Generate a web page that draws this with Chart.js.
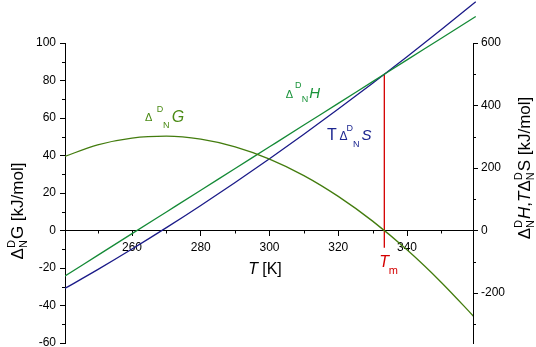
<!DOCTYPE html>
<html>
<head>
<meta charset="utf-8">
<script src="https://cdn.jsdelivr.net/npm/chart.js@4.4.1/dist/chart.umd.min.js"></script>
<style>
html, body { margin: 0; padding: 0; background: #fff; }
#wrap { width: 536px; height: 347px; }
</style>
</head>
<body>
<div id="wrap"><canvas id="thermoChart" width="536" height="347"></canvas></div>
<script>
// temperatures [K] and the three curves
var temps = [240, 250, 260, 270, 280, 290, 300, 310, 320, 330, 340, 350, 360];
var dG = [39.2, 45.7, 49.3, 50.3, 48.7, 44.6, 38.1, 29.3, 18.2, 5.0, -10.3, -27.7, -47.0];
var dH = [-149.1, -79.6, -10.1, 59.4, 128.9, 198.4, 267.9, 337.4, 406.9, 476.4, 545.9, 615.4, 684.9];
var TdS = [-188.3, -125.3, -59.4, 9.1, 80.2, 153.8, 229.8, 308.1, 388.7, 471.4, 556.2, 643.1, 731.9];

// melting point marker
var Tm = 333.4;
var HTm = 500;
var TmLineLow = -55;

// ticks
var xTicks = [260, 280, 300, 320, 340];
var xMinor = [250, 270, 290, 310, 330, 350];
var gTicks = [-60, -40, -20, 0, 20, 40, 60, 80, 100];
var gMinor = [-50, -30, -10, 10, 30, 50, 70, 90];
var hTicks = [-200, 0, 200, 400, 600];
var hMinor = [-300, -100, 100, 300, 500];

var fontFam = '"Liberation Sans", Arial, sans-serif';

function pts(ys) {
    return temps.map(function (t, i) { return { x: t, y: ys[i] }; });
}

// text pieces at fixed offsets from an anchor
function rich(ctx, x0, y0, segs, color) {
    ctx.save();
    ctx.fillStyle = color;
    ctx.textAlign = 'left';
    ctx.textBaseline = 'alphabetic';
    segs.forEach(function (s) {
        ctx.font = (s.it ? 'italic ' : '') + s.size + 'px ' + fontFam;
        ctx.fillText(s.t, x0 + s.dx, y0 + s.dy);
    });
    ctx.restore();
}

// flowing text, centred on (cx, cy), optionally rotated
// a piece with stack:true does not advance (sup over sub)
function flow(ctx, cx, cy, rot, segs, color) {
    ctx.save();
    ctx.translate(cx, cy);
    ctx.rotate(rot);
    ctx.fillStyle = color;
    ctx.textAlign = 'left';
    ctx.textBaseline = 'alphabetic';
    var total = 0;
    segs.forEach(function (s) {
        ctx.font = (s.it ? 'italic ' : '') + s.size + 'px ' + fontFam;
        s.w = s.stack ? 0 : ctx.measureText(s.t).width + (s.gap || 0);
        total += s.w;
    });
    var x = -total / 2;
    segs.forEach(function (s) {
        ctx.font = (s.it ? 'italic ' : '') + s.size + 'px ' + fontFam;
        ctx.fillText(s.t, x, s.dy || 0);
        x += s.w;
    });
    ctx.restore();
}

var decor = {
    id: 'decor',
    afterDraw: function (chart) {
        var ctx = chart.ctx;
        var xs = chart.scales.x, ys = chart.scales.y, hs = chart.scales.y1;
        var area = chart.chartArea;
        var y0 = ys.getPixelForValue(0);

        // minor ticks
        ctx.save();
        ctx.strokeStyle = '#000';
        ctx.lineWidth = 1;
        ctx.beginPath();
        xMinor.forEach(function (v) {
            var p = Math.round(xs.getPixelForValue(v)) + 0.5;
            ctx.moveTo(p, y0); ctx.lineTo(p, y0 + 3);
        });
        gMinor.forEach(function (v) {
            var p = Math.round(ys.getPixelForValue(v)) + 0.5;
            ctx.moveTo(area.left, p); ctx.lineTo(area.left - 3, p);
        });
        hMinor.forEach(function (v) {
            var p = Math.round(hs.getPixelForValue(v)) + 0.5;
            ctx.moveTo(area.right, p); ctx.lineTo(area.right + 3, p);
        });
        ctx.stroke();
        ctx.restore();

        // curve labels
        rich(ctx, xs.getPixelForValue(263.8), ys.getPixelForValue(58), [
            { t: '\u0394', size: 11, dx: 0, dy: -1 },
            { t: 'D', size: 9, dx: 11.7, dy: -10 },
            { t: 'N', size: 9, dx: 18, dy: 6 },
            { t: 'G', size: 16, it: true, dx: 26.7, dy: 0 }
        ], '#4a8a14');
        rich(ctx, xs.getPixelForValue(304.7), hs.getPixelForValue(425), [
            { t: '\u0394', size: 11, dx: 0, dy: 0 },
            { t: 'D', size: 9, dx: 9.3, dy: -10 },
            { t: 'N', size: 9, dx: 16, dy: 4 },
            { t: 'H', size: 15, it: true, dx: 23.6, dy: 0 }
        ], '#19933a');
        rich(ctx, xs.getPixelForValue(316.7), hs.getPixelForValue(290), [
            { t: 'T', size: 16, dx: 0, dy: 0 },
            { t: '\u0394', size: 12, dx: 12.5, dy: 0 },
            { t: 'D', size: 9, dx: 19.7, dy: -9 },
            { t: 'N', size: 9, dx: 26, dy: 7 },
            { t: 'S', size: 15, it: true, dx: 34.7, dy: 0 }
        ], '#1c2690');

        // Tm label
        var pTm = xs.getPixelForValue(Tm);
        rich(ctx, pTm, y0, [
            { t: 'T', size: 16, it: true, dx: -5, dy: 36 },
            { t: 'm', size: 11, dx: 4.5, dy: 43 }
        ], '#d40000');

        // x title
        rich(ctx, xs.getPixelForValue(293.8), y0, [
            { t: 'T', size: 16, it: true, dx: 0, dy: 43 },
            { t: '[K]', size: 16, dx: 14, dy: 43 }
        ], '#000');

        // left title
        flow(ctx, 22.5, 211, -Math.PI / 2, [
            { t: '\u0394', size: 17 },
            { t: 'D', size: 11, dy: -8, stack: true },
            { t: 'N', size: 11, dy: 4, gap: 1 },
            { t: 'G [kJ/mol]', size: 17 }
        ], '#000');

        // right title
        flow(ctx, 530, 168, -Math.PI / 2, [
            { t: '\u0394', size: 17 },
            { t: 'D', size: 11, dy: -8, stack: true },
            { t: 'N', size: 11, dy: 4, gap: 1 },
            { t: 'H', size: 17, it: true },
            { t: ',', size: 17 },
            { t: 'T', size: 17, it: true },
            { t: '\u0394', size: 17 },
            { t: 'D', size: 11, dy: -8, stack: true },
            { t: 'N', size: 11, dy: 4, gap: 1 },
            { t: 'S [kJ/mol]', size: 17 }
        ], '#000');
    }
};

var openClip = { left: 0, top: false, right: false, bottom: 0 };

var ctx = document.getElementById('thermoChart');
var thermoChart = new Chart(ctx, {
    type: 'line',
    data: {
        datasets: [{
            label: 'dG',
            data: pts(dG),
            yAxisID: 'y',
            borderColor: '#437c0e',
            borderWidth: 1.3,
            pointRadius: 0,
            cubicInterpolationMode: 'monotone'
        }, {
            label: 'dH',
            data: pts(dH),
            yAxisID: 'y1',
            borderColor: '#148a36',
            borderWidth: 1.3,
            pointRadius: 0,
            cubicInterpolationMode: 'monotone',
            clip: openClip
        }, {
            label: 'TdS',
            data: pts(TdS),
            yAxisID: 'y1',
            borderColor: '#1a1a88',
            borderWidth: 1.3,
            pointRadius: 0,
            cubicInterpolationMode: 'monotone',
            clip: openClip
        }, {
            label: 'Tm',
            data: [{ x: Tm, y: HTm }, { x: Tm, y: TmLineLow }],
            yAxisID: 'y1',
            borderColor: '#d40000',
            borderWidth: 1.3,
            pointRadius: 0,
            clip: false
        }]
    },
    options: {
        responsive: false,
        animation: false,
        devicePixelRatio: 1,
        layout: { padding: { top: 43, bottom: 4, left: 0, right: 0 } },
        plugins: {
            legend: { display: false },
            tooltip: { enabled: false }
        },
        scales: {
            x: {
                type: 'linear',
                min: 240.5,
                max: 359.2,
                position: { y: 0 },
                afterBuildTicks: function (scale) {
                    scale.ticks = xTicks.map(function (v) { return { value: v }; });
                },
                grid: { drawOnChartArea: false, drawTicks: true, tickLength: 5, color: '#000' },
                border: { display: true, color: '#000', width: 1 },
                ticks: { color: '#000', font: { size: 12, family: fontFam }, padding: 5, maxRotation: 0 }
            },
            y: {
                position: 'left',
                min: -60,
                max: 100,
                afterBuildTicks: function (scale) {
                    scale.ticks = gTicks.map(function (v) { return { value: v }; });
                },
                afterFit: function (scale) {
                    scale.width = 65;
                    scale.paddingTop = 0;
                    scale.paddingBottom = 0;
                },
                grid: { drawOnChartArea: false, drawTicks: true, tickLength: 5, color: '#000' },
                border: { display: true, color: '#000', width: 1 },
                ticks: { color: '#000', font: { size: 12, family: fontFam }, padding: 4 }
            },
            y1: {
                position: 'right',
                min: -360,
                max: 600,
                afterBuildTicks: function (scale) {
                    scale.ticks = hTicks.map(function (v) { return { value: v }; });
                },
                afterFit: function (scale) {
                    scale.width = 63;
                    scale.paddingTop = 0;
                    scale.paddingBottom = 0;
                },
                grid: { drawOnChartArea: false, drawTicks: true, tickLength: 5, color: '#000' },
                border: { display: true, color: '#000', width: 1 },
                ticks: { color: '#000', font: { size: 12, family: fontFam }, padding: 3 }
            }
        }
    },
    plugins: [decor]
});
</script>
</body>
</html>
